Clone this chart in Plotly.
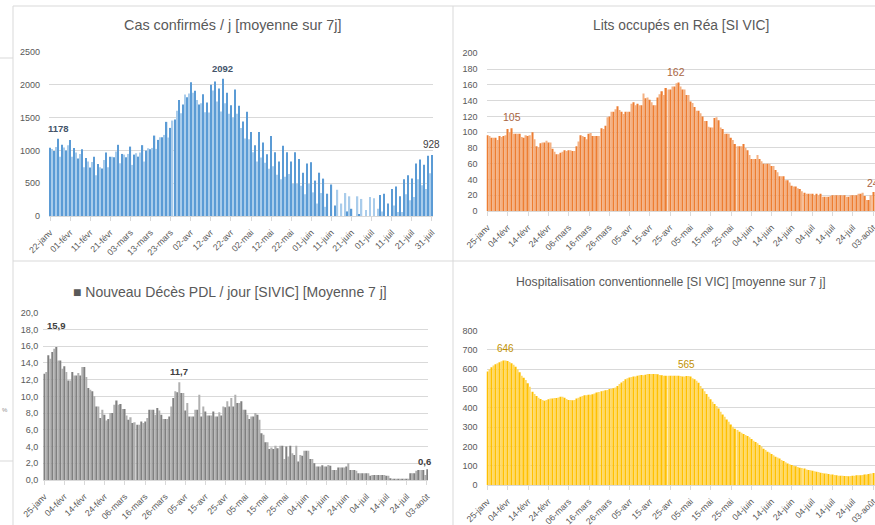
import pandas as pd
import plotly.graph_objects as go

# ---------------- data ----------------
cas_start = "2021-01-22"
sivic_start = "2021-01-25"

cas_values = [
    1040, 1020, 990, 1050, 1178, 905, 1085, 1045, 1000, 1080,
    1160, 905, 1035, 967, 876, 946, 1018, 743, 885, 830,
    738, 825, 905, 620, 794, 743, 723, 855, 967, 743,
    905, 905, 895, 982, 1085, 804, 946, 936, 895, 946,
    1058, 779, 936, 957, 905, 967, 1080, 830, 997, 1033,
    1018, 1038, 1226, 1023, 1160, 1200, 1200, 1236, 1435, 1196,
    1343, 1455, 1470, 1603, 1770, 1567, 1700, 1852, 1811, 1867,
    2040, 1878, 1908, 1770, 1700, 1720, 1857, 1583, 1730, 1578,
    2000, 1913, 2050, 1745, 1944, 1593, 2092,
    1720, 1880, 1560, 1690, 1500, 1930, 1560, 1680, 1340, 1440,
    1180, 1590, 1170, 1280, 970, 1080, 830, 1280, 890, 1120,
    810, 940, 720, 1220, 760, 970, 630, 830, 560, 1070,
    600, 970, 640, 830, 490, 970, 490, 870, 460, 660,
    330, 800, 490, 820, 360, 540, 190, 660, 350, 570,
    140, 340, 0, 480, 0, 160, 400, 0, 190, 0,
    350, 70, 300, 110, 0, 0, 300, 30, 260, 0,
    90, 0, 290,
    0, 270, 0, 110, 320, 70, 340, 0, 190, 0,
    410, 160, 450, 60, 300, 60, 560, 330, 620, 240,
    570, 290, 800, 560, 860, 470, 780, 410, 920, 650,
    928,
]

rea_values = [
    96, 95, 93, 93, 93, 90, 95, 94, 95, 96,
    104, 100, 105, 98, 98, 98, 98, 94, 93, 96,
    95, 96, 100, 91, 82, 81, 86, 87, 87, 89,
    87, 87, 79, 75, 72, 72, 74, 75, 77, 76,
    77, 77, 76, 76, 82, 88, 96, 95, 94, 91,
    98, 99, 95, 95, 95, 95, 105, 104, 108, 119,
    120, 126, 126, 129, 133, 128, 126, 123, 126, 126,
    126, 136, 138, 134, 136, 134, 134, 149, 143, 144,
    141, 138, 134, 134, 144,
    148, 152, 147, 156, 154, 154, 158, 158, 162, 163,
    158, 154, 154, 147, 147, 139, 137, 132, 127, 127,
    124, 120, 114, 114, 107, 106, 106, 118, 119, 115,
    106, 104, 98, 98, 98, 93, 90, 85, 82, 82,
    82, 85, 80, 77, 71, 66, 66, 66, 71, 66,
    63, 60, 60, 60, 60, 57, 57, 52, 49, 44,
    44, 44, 39, 39, 36, 32, 31, 31, 29, 28,
    25, 23, 22, 22, 22, 22, 20, 22, 20, 22,
    18, 18, 18, 18, 19, 20, 20, 20, 20, 20,
    20, 20, 18, 18, 20, 20, 20, 20, 22, 22,
    23, 19, 14, 14, 20, 24,
]

deces_values = [
    12.7, 12.9, 14.9, 14.5, 15.3, 15.7, 15.9, 14.3, 14.3, 13.3,
    13.6, 12.9, 11.9, 11.9, 12.9, 12.5, 12.5, 12.8, 12.5, 13.5,
    13.5, 12.3, 11.0, 10.8, 10.6, 10.0, 8.8, 8.8, 7.4, 8.4,
    7.8, 7.1, 7.3, 8.0, 8.0, 9.0, 9.5, 9.0, 9.1, 8.5,
    8.5, 7.7, 7.2, 7.5, 6.8, 6.9, 6.6, 6.6, 7.0, 6.8,
    7.0, 7.4, 8.4, 8.4, 8.4, 7.8, 8.6, 8.3, 7.8, 7.3,
    7.3, 7.3,
    7.6, 8.8, 9.8, 10.6, 10.5, 11.7, 10.4, 10.4, 8.3, 9.2,
    7.6, 7.6, 7.6, 8.4, 8.4, 10.2, 7.6, 8.8, 8.2, 7.7,
    7.7, 7.7, 8.2, 7.6, 7.6,
    8.1, 7.7, 8.8, 8.7, 9.4, 8.8, 9.8, 8.8, 10.2, 9.2,
    9.2, 9.4, 8.4, 8.4, 7.8, 7.3, 7.6, 7.6, 8.0, 7.8,
    7.2, 5.6, 5.4, 4.5, 4.5, 3.7, 3.9, 3.7, 4.1, 3.8,
    4.1, 4.1, 2.5, 4.0, 2.8, 4.1, 3.2, 3.0, 4.1, 2.2,
    3.0, 2.9, 3.5, 3.5, 3.5, 2.5, 2.5, 2.0, 1.6, 1.6,
    1.6, 1.75, 1.6, 1.6, 1.8, 1.7, 1.2, 1.2, 1.2, 1.5,
    1.5, 1.5, 1.5, 1.6, 2.0, 1.2, 1.2, 1.2, 1.1, 0.8,
    0.8, 0.8, 0.8, 0.8, 0.8, 0.5, 0.6, 0.6, 0.6, 0.6,
    0.6, 0.6, 0.6, 0.5, 0.5, 0.2, 0.1, 0.1, 0.1, 0.1,
    0.1, 0.1, 0.1, 0.1, 0.1, 0.8, 0.8, 0.8, 1.1, 1.2,
    1.2, 1.2,
    0.6, 1.3,
]

hospit_values = [
    588, 600, 610, 619, 626, 631, 636, 641, 645, 646,
    643, 638, 631, 624, 613, 600, 584, 567, 556, 544,
    527, 510, 484, 472, 461, 453, 446, 441, 437, 441,
    444, 448, 449, 451, 451, 454, 458, 458, 453, 446,
    441, 441, 439, 441, 448, 453, 458, 461, 465, 465,
    468, 468, 470, 475, 479, 482, 486, 489, 491, 493,
    498, 499, 501, 506, 513, 524, 532, 539, 548, 553,
    558, 560, 562, 563, 567, 569, 570, 569, 572, 575,
    575, 575, 575, 575, 574,
    570, 569, 567, 567, 567, 567, 567, 567, 567, 567,
    565, 562, 562, 565, 565, 562, 553, 548, 541, 530,
    513, 499, 486, 472, 458, 444, 432, 420, 410, 396,
    380, 366, 354, 340, 328, 314, 302, 292, 285, 276,
    271, 264, 259, 254, 247, 238, 230, 223, 216, 207,
    199, 188, 181, 173, 168, 161, 154, 147, 142, 137,
    130, 124, 118, 112, 107, 104, 100, 97, 93, 90,
    88, 85, 81, 78, 76, 74, 71, 69, 67, 64,
    62, 60, 59, 57, 55, 54, 52, 50, 48, 48,
    48, 47, 47, 46, 47, 48, 48, 50, 50, 50,
    52, 54, 55, 57, 59, 62,
]

cas_ticks = ["22-janv", "01-févr", "11-févr", "21-févr", "03-mars", "13-mars", "23-mars",
             "02-avr", "12-avr", "22-avr", "02-mai", "12-mai", "22-mai", "01-juin",
             "11-juin", "21-juin", "01-juil", "11-juil", "21-juil", "31-juil"]
sivic_ticks = ["25-janv", "04-févr", "14-févr", "24-févr", "06-mars", "16-mars", "26-mars",
               "05-avr", "15-avr", "25-avr", "05-mai", "15-mai", "25-mai", "04-juin",
               "14-juin", "24-juin", "04-juil", "14-juil", "24-juil", "03-août"]
deces_yticks = [0, 2, 4, 6, 8, 10, 12, 14, 16, 18, 20]
deces_yticktext = ["0,0", "2,0", "4,0", "6,0", "8,0", "10,0", "12,0", "14,0", "16,0", "18,0", "20,0"]

cas_label_idx = [4, 86, 190]
rea_label_idx = [12, 93, 190]
deces_label_idx = [6, 67, 189]
hospit_label_idx = [9, 98]

titles = {
    "cas": "Cas confirmés / j [moyenne sur 7j]",
    "rea": "Lits occupés en Réa [SI VIC]",
    "deces": "■ Nouveau Décès PDL / jour [SIVIC] [Moyenne 7 j]",
    "hospit": "Hospitalisation conventionnelle [SI VIC] [moyenne sur 7 j]",
}

# ---------------- helpers ----------------
W, H = 875, 525
GRID = "#D9D9D9"
TXT = "#595959"


def px_x(p):
    return p / W


def px_y(p):
    return 1 - p / H


def dstr(ts):
    return ts.strftime("%Y-%m-%d %H:%M")


d_cas = pd.date_range(cas_start, periods=len(cas_values), freq="D")
d_siv = pd.date_range(sivic_start, periods=len(rea_values), freq="D")
half = pd.Timedelta(hours=12)

fig = go.Figure()


def add_bars(dates, vals, colors, xa, ya):
    fig.add_trace(go.Bar(
        x=[dstr(d) for d in dates], y=vals,
        marker=dict(color=[colors[i % 2] for i in range(len(vals))], line=dict(width=0)),
        xaxis=xa, yaxis=ya, hoverinfo="skip", showlegend=False,
    ))


add_bars(d_cas, cas_values, ["#5B9BD5", "#A9CCEB"], "x", "y")
add_bars(d_siv, rea_values, ["#ED7D31", "#F4B183"], "x2", "y2")
add_bars(d_siv, deces_values, ["#808080", "#B0B0B0"], "x3", "y3")
add_bars(d_siv, hospit_values, ["#FFC000", "#FFD966"], "x4", "y4")


def xaxis_cfg(dom, dates, ticks, anchor, extra_right=0.5):
    return dict(
        domain=dom, type="date", anchor=anchor, automargin=False,
        range=[dstr(dates[0] - half), dstr(dates[-1] + pd.Timedelta(hours=24 * extra_right))],
        tickmode="array", tickvals=[dstr(d) for d in dates[::10]], ticktext=ticks,
        tickangle=-45, ticks="outside", ticklen=4, tickcolor=GRID, tickwidth=1,
        ticklabelstandoff=3, ticklabeloverflow="allow",
        showline=True, linecolor=GRID, linewidth=1, showgrid=False, zeroline=False,
        tickfont=dict(size=8.8, color=TXT), fixedrange=True,
    )


def yaxis_cfg(dom, rng, dtick, anchor, standoff=8, tickvals=None, ticktext=None):
    cfg = dict(
        domain=dom, range=rng, dtick=dtick, anchor=anchor, automargin=False,
        showgrid=True, gridcolor=GRID, gridwidth=1, zeroline=False, showline=False,
        ticks="", tickfont=dict(size=9, color=TXT), ticklabelstandoff=standoff,
        fixedrange=True,
    )
    if tickvals is not None:
        cfg.update(tickmode="array", tickvals=tickvals, ticktext=ticktext)
    return cfg


fig.update_layout(
    width=W, height=H, margin=dict(l=0, r=0, t=0, b=0, autoexpand=False),
    paper_bgcolor="white", plot_bgcolor="white",
    font=dict(family="Liberation Sans", color=TXT),
    bargap=0.35,
    xaxis=xaxis_cfg([px_x(49), px_x(433)], d_cas, cas_ticks, "y"),
    yaxis=yaxis_cfg([px_y(216), px_y(52)], [0, 2500], 500, "x"),
    xaxis2=xaxis_cfg([px_x(486.5), 1.0], d_siv, sivic_ticks, "y2", extra_right=0.9),
    yaxis2=yaxis_cfg([px_y(211), px_y(53.3)], [0, 200], 20, "x2"),
    xaxis3=xaxis_cfg([px_x(43.3), px_x(428)], d_siv, sivic_ticks, "y3"),
    yaxis3=yaxis_cfg([px_y(480), px_y(312.7)], [0, 20], 2, "x3", standoff=4,
                     tickvals=deces_yticks, ticktext=deces_yticktext),
    xaxis4=xaxis_cfg([px_x(486.5), 1.0], d_siv, sivic_ticks, "y4", extra_right=0.9),
    yaxis4=yaxis_cfg([px_y(485), px_y(330.7)], [0, 800], 100, "x4"),
)

annotations = []


def add_labels(dates, vals, idxs, xref, yref, fmt, color, bold, size, yshifts):
    for i, ys in zip(idxs, yshifts):
        t = fmt(vals[i])
        if bold:
            t = "<b>" + t + "</b>"
        annotations.append(dict(
            x=dstr(dates[i]), y=vals[i], xref=xref, yref=yref, text=t,
            showarrow=False, yanchor="bottom", yshift=ys,
            font=dict(size=size, color=color),
        ))


def fmt_int(v):
    return str(int(round(v)))


def fmt_dec(v):
    return f"{v:.1f}".replace(".", ",")


add_labels(d_cas, cas_values, cas_label_idx, "x", "y", fmt_int, "#44546A", True, 9.5, [3, 3, 3])
annotations[-1]["text"] = fmt_int(cas_values[cas_label_idx[-1]])
annotations[-1]["font"] = dict(size=10, color="#404040")
add_labels(d_siv, rea_values, rea_label_idx, "x2", "y2", fmt_int, "#A9653F", False, 10.5, [3, 3, 1])
add_labels(d_siv, deces_values, deces_label_idx, "x3", "y3", fmt_dec, "#404040", True, 9.5, [14, 3, 6])
add_labels(d_siv, hospit_values, hospit_label_idx, "x4", "y4", fmt_int, "#BF9000", False, 10, [4, 4])

# chart titles
title_specs = [
    (titles["cas"], 232.5, 25, 14.4),
    (titles["rea"], 681, 25, 13.8),
    (titles["deces"], 230.5, 291.5, 14),
    (titles["hospit"], 670.5, 282, 12.2),
]
for text, cx, cy, size in title_specs:
    annotations.append(dict(
        x=px_x(cx), y=px_y(cy), xref="paper", yref="paper", text=text,
        showarrow=False, xanchor="center", yanchor="middle",
        font=dict(size=size, color=TXT),
    ))

# stray text from neighbouring sheet area
annotations.append(dict(x=px_x(0), y=px_y(410), xref="paper", yref="paper", text="%",
                        showarrow=False, xanchor="left", yanchor="middle",
                        font=dict(size=6, color="#8C8C8C")))
fig.update_layout(annotations=annotations)

# panel borders
border = dict(color="#D9D9D9", width=1)
shapes = [
    dict(type="line", xref="paper", yref="paper", x0=px_x(13), x1=px_x(13), y0=px_y(6), y1=0, line=border),
    dict(type="line", xref="paper", yref="paper", x0=px_x(453), x1=px_x(453), y0=px_y(6), y1=0, line=border),
    dict(type="line", xref="paper", yref="paper", x0=px_x(13), x1=1, y0=px_y(6), y1=px_y(6), line=border),
    dict(type="line", xref="paper", yref="paper", x0=px_x(13), x1=1, y0=px_y(261), y1=px_y(261), line=border),
    dict(type="line", xref="paper", yref="paper", x0=0, x1=px_x(13), y0=px_y(58), y1=px_y(58), line=border),
    dict(type="line", xref="paper", yref="paper", x0=0, x1=px_x(13), y0=px_y(461), y1=px_y(461), line=border),
]
fig.update_layout(shapes=shapes)

fig.write_html(
    "out.html",
    config={"displayModeBar": False},
    post_script="document.body.style.margin='0';document.body.style.overflow='hidden';",
)
